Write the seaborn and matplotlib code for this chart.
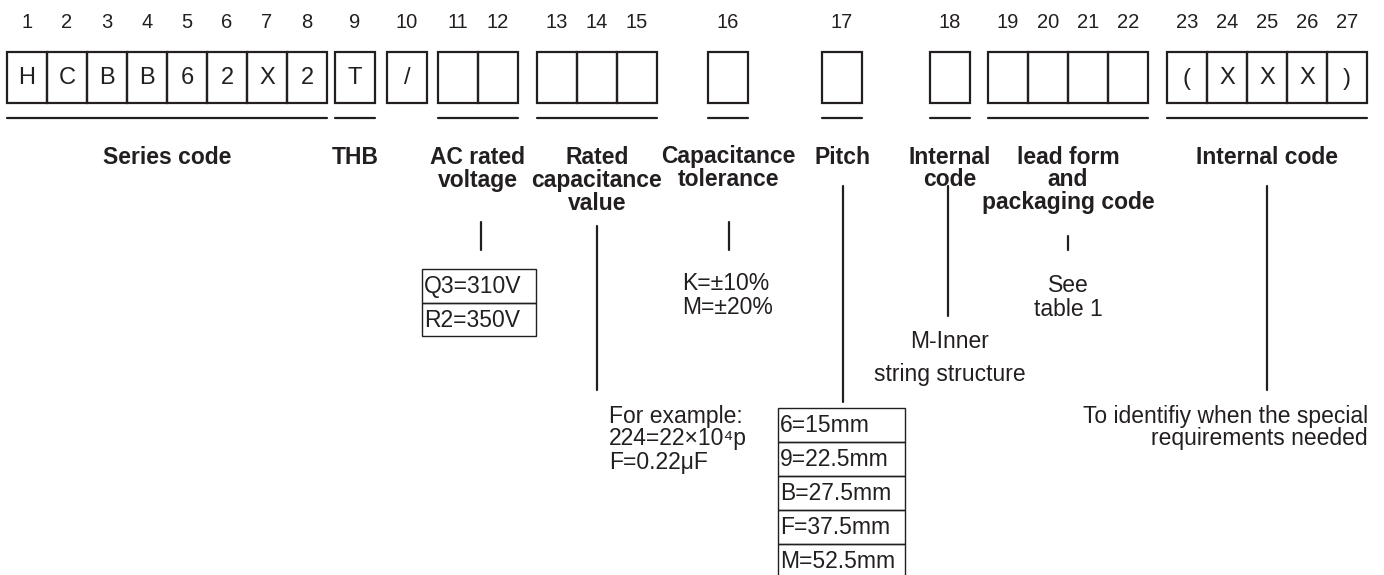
"""Part number coding diagram (HCBB62X2 series)."""
import matplotlib.pyplot as plt
import matplotlib.patches as mpatches
import seaborn as sns

# ---- content -------------------------------------------------------------
positions = list(range(1, 28))
cell_chars = ["H", "C", "B", "B", "6", "2", "X", "2", "T", "/",
              "", "", "", "", "", "", "", "", "",
              "", "", "", "(", "X", "X", "X", ")"]
group_sizes = [8, 1, 1, 2, 3, 1, 1, 1, 4, 5]
group_underlined = [True, True, False, True, True, True, True, True, True, True]
group_labels = ["Series code", "THB", "", "AC rated\nvoltage",
                "Rated\ncapacitance\nvalue", "Capacitance\ntolerance",
                "Pitch", "Internal\ncode", "lead form\nand\npackaging code",
                "Internal code"]
voltage_codes = ["Q3=310V", "R2=350V"]
tolerance_codes = ["K=±10%", "M=±20%"]
capacitance_note = ["For example:", "224=22×10⁴p", "F=0.22μF"]
pitch_codes = ["6=15mm", "9=22.5mm", "B=27.5mm", "F=37.5mm", "M=52.5mm"]
inner_note = ["M-Inner", "string structure"]
packaging_note = ["See", "table 1"]
special_note = ["To identifiy when the special", "requirements needed"]

# ---- layout (pixel space) --------------------------------------------------
group_x0 = [7, 335, 387, 438, 537, 708, 822, 930, 988, 1167]
cell_w = 40
box_top, box_h = 52, 51
num_y = 22
underline_y = 118
label_y = 157
line_gap = 23
ink = "#231f20"
fs_num, fs_cell, fs_label, fs_note = 14.5, 17, 16.5, 16.5

sns.set_theme(style="white")
plt.rcParams["font.family"] = ["Liberation Sans", "DejaVu Sans"]

fig = plt.figure(figsize=(13.84, 5.75), dpi=100)
ax = fig.add_axes([0, 0, 1, 1])
ax.set_xlim(0, 1384)
ax.set_ylim(575, 0)
ax.axis("off")

# boxes, numbers, underlines, labels
idx = 0
for g, (x0, n) in enumerate(zip(group_x0, group_sizes)):
    for k in range(n):
        cx = x0 + k * cell_w
        ax.add_patch(mpatches.Rectangle((cx, box_top), cell_w, box_h,
                                        fill=False, ec=ink, lw=1.6))
        ax.text(cx + cell_w / 2, num_y, str(positions[idx]), ha="center",
                va="center", fontsize=fs_num, color=ink)
        ax.text(cx + cell_w / 2, box_top + box_h / 2 + 1, cell_chars[idx],
                ha="center", va="center", fontsize=fs_cell, color=ink)
        idx += 1
    x1 = x0 + n * cell_w
    if group_underlined[g]:
        ax.plot([x0, x1], [underline_y, underline_y], color=ink, lw=1.6)
    center = (x0 + x1) / 2
    for j, line in enumerate(group_labels[g].split("\n")):
        ax.text(center, label_y + j * line_gap, line, ha="center",
                va="center", fontsize=fs_label, fontweight="bold", color=ink)

# connector lines: x, y0, y1
connectors = [(481, 222, 250), (597, 226, 390), (729, 222, 250),
              (843, 186, 402), (948, 186, 316), (1068, 236, 250),
              (1267, 186, 390)]
for x, y0, y1 in connectors:
    ax.plot([x, x], [y0, y1], color=ink, lw=1.6)


def table(x0, y0, w, h, rows):
    for i, row in enumerate(rows):
        ax.add_patch(mpatches.Rectangle((x0, y0 + i * h), w, h, fill=False,
                                        ec=ink, lw=1.0))
        ax.text(x0 + 2, y0 + i * h + h / 2 + 1, row, ha="left", va="center",
                fontsize=fs_note, color=ink)


def note(x, y, lines, ha="left"):
    for j, line in enumerate(lines):
        ax.text(x, y + j * line_gap, line, ha=ha, va="center",
                fontsize=fs_note, color=ink)


table(422, 269, 114, 33.5, voltage_codes)
table(778, 408, 127, 34, pitch_codes)
note(682, 284, tolerance_codes)
note(609, 416, capacitance_note)
note(950, 341, inner_note[:1], ha="center")
note(950, 375, inner_note[1:], ha="center")
note(1068, 286, packaging_note, ha="center")
note(1368, 416, special_note, ha="right")

fig.savefig("out.png", dpi=100, facecolor="white")
